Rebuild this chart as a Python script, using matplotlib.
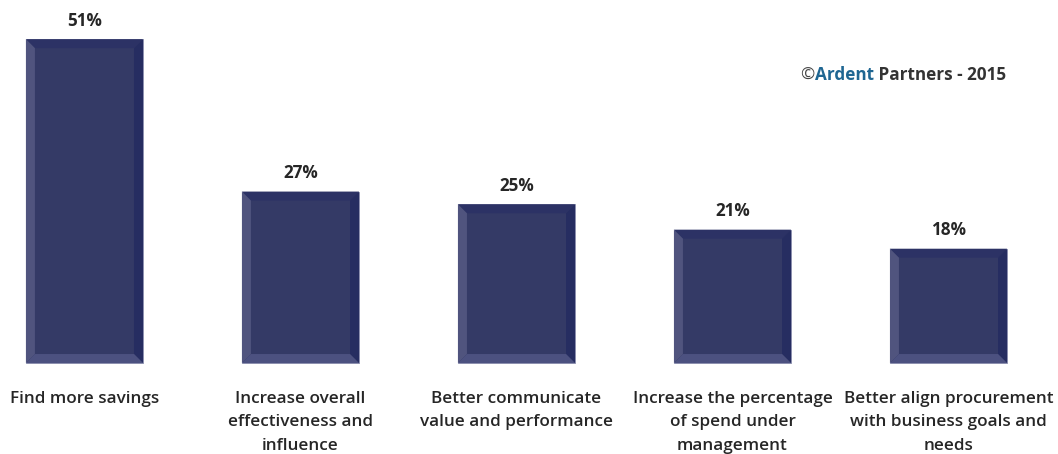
import matplotlib
matplotlib.use('Agg')
import matplotlib.pyplot as plt
from matplotlib.patches import Polygon

categories = [
    "Find more savings",
    "Increase overall\neffectiveness and\ninfluence",
    "Better communicate\nvalue and performance",
    "Increase the percentage\nof spend under\nmanagement",
    "Better align procurement\nwith business goals and\nneeds",
]
values = [51, 27, 25, 21, 18]
value_labels = ["51%", "27%", "25%", "21%", "18%"]

FACE = '#343a66'
TOP = '#2c3265'
LEFT = '#50547e'
RIGHT = '#262d61'
BOTTOM = '#4c5180'
TEXT = '#262626'

plt.rcParams['font.family'] = ['Open Sans', 'DejaVu Sans']

fig = plt.figure(figsize=(10.58, 4.54), dpi=100)
ax = fig.add_axes([0, 0, 1, 1])
ax.set_xlim(-0.391, 4.507)
ax.set_ylim(-14.33, 57.17)
ax.axis('off')

x = list(range(len(values)))
width = 0.542
bars = ax.bar(x, values, width=width, color=FACE, edgecolor='#8c90b0',
              linewidth=0.6, zorder=2)

# bevel edges, ~9 px wide
bx = 9 / 216
by = 9 / 6.35
for b in bars:
    x0, y0 = b.get_x(), b.get_y()
    x1, y1 = x0 + b.get_width(), y0 + b.get_height()
    faces = [
        ([(x0, y1), (x1, y1), (x1 - bx, y1 - by), (x0 + bx, y1 - by)], TOP),
        ([(x0, y0), (x0, y1), (x0 + bx, y1 - by), (x0 + bx, y0 + by)], LEFT),
        ([(x1, y0), (x1, y1), (x1 - bx, y1 - by), (x1 - bx, y0 + by)], RIGHT),
        ([(x0, y0), (x1, y0), (x1 - bx, y0 + by), (x0 + bx, y0 + by)], BOTTOM),
    ]
    for pts, c in faces:
        ax.add_patch(Polygon(pts, closed=True, facecolor=c, edgecolor='none', zorder=3))

for xi, v, lab in zip(x, values, value_labels):
    ax.text(xi, v + 2.9, lab, ha='center', va='center', fontsize=12.3,
            fontweight='bold', color=TEXT)

for xi, cat in zip(x, categories):
    ax.text(xi, -4.35, cat, ha='center', va='top', fontsize=12.3,
            fontweight='semibold', color=TEXT, linespacing=1.62)

# copyright note
t1 = ax.text(0.756, 0.833, "\u00a9", transform=ax.transAxes, fontsize=12.3,
             color='#444444', va='center', ha='left')
t2 = ax.annotate("Ardent", xy=(1, 0), xycoords=t1, xytext=(1, 0),
                 textcoords='offset points', fontsize=12.3, fontweight='bold',
                 color='#1f6692', va='bottom', ha='left')
ax.annotate(" Partners - 2015", xy=(1, 0), xycoords=t2, fontsize=12.3,
            fontweight='bold', color='#333333', va='bottom', ha='left')

fig.savefig('out.png', dpi=100)
